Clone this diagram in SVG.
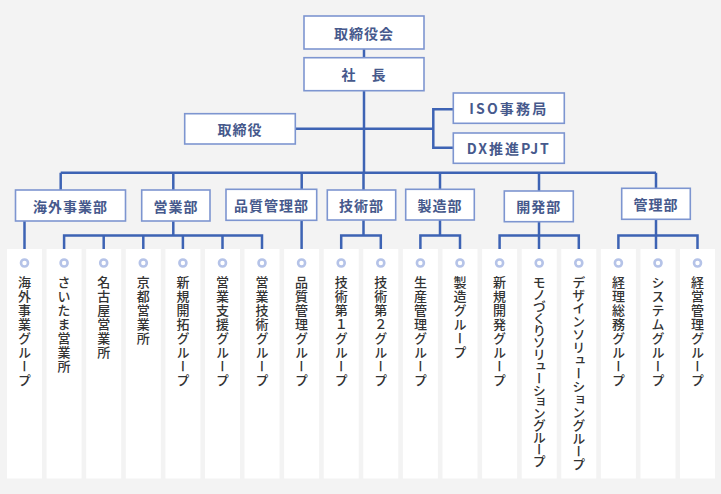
<svg xmlns="http://www.w3.org/2000/svg" width="721" height="494" viewBox="0 0 721 494">
<style>
.bx{fill:#fff;stroke:#7d95d0;stroke-width:1.6}
.bt{font-family:"Noto Sans CJK JP","Noto Sans",sans-serif;font-weight:bold;font-size:14px;fill:#46598c;text-anchor:middle;dominant-baseline:central;letter-spacing:1px}
.ln{fill:none;stroke:#3d63b4;stroke-width:2.5}
.col{fill:#fff}
.dot{fill:#fff;stroke:#b5c3e8;stroke-width:2.6}
.vt{font-family:"Noto Sans CJK JP","Noto Sans",sans-serif;font-size:13px;font-weight:500;fill:#333;writing-mode:vertical-rl;letter-spacing:0.9px}
</style>
<rect width="721" height="494" fill="#f3f3f3"/>
<g id="columns">
<rect class="col" x="7" y="249" width="35" height="229.5"/>
<rect class="col" x="46.6" y="249" width="35" height="229.5"/>
<rect class="col" x="86.2" y="249" width="35" height="229.5"/>
<rect class="col" x="125.8" y="249" width="35" height="229.5"/>
<rect class="col" x="165.4" y="249" width="35" height="229.5"/>
<rect class="col" x="205" y="249" width="35" height="229.5"/>
<rect class="col" x="244.5" y="249" width="35" height="229.5"/>
<rect class="col" x="284.1" y="249" width="35" height="229.5"/>
<rect class="col" x="323.7" y="249" width="35" height="229.5"/>
<rect class="col" x="363.3" y="249" width="35" height="229.5"/>
<rect class="col" x="402.9" y="249" width="35" height="229.5"/>
<rect class="col" x="442.5" y="249" width="35" height="229.5"/>
<rect class="col" x="482.1" y="249" width="35" height="229.5"/>
<rect class="col" x="521.7" y="249" width="35" height="229.5"/>
<rect class="col" x="561.3" y="249" width="35" height="229.5"/>
<rect class="col" x="600.9" y="249" width="35" height="229.5"/>
<rect class="col" x="640.5" y="249" width="35" height="229.5"/>
<rect class="col" x="680" y="249" width="35" height="229.5"/>
</g>
<g id="connectors">
<path class="ln" d="M364 49V172.7"/>
<path class="ln" d="M295.3 128.7H433.3"/>
<path class="ln" d="M453.3 109.3H433.3V147.7H453.3"/>
<path class="ln" d="M60.7 172.7H656"/>
<path class="ln" d="M60.7 172.7V190M173.3 172.7V190M301.7 172.7V189.3M363.5 172.7V190M440 172.7V189.3M539 172.7V191M656 172.7V188.3"/>
<path class="ln" d="M24.5 221V249"/>
<path class="ln" d="M173.3 221V235.5M64.1 249V235.5H262V249M103.7 235.5V249M143.3 235.5V249M182.9 235.5V249M222.5 235.5V249"/>
<path class="ln" d="M301.6 220V249"/>
<path class="ln" d="M363.5 220V235.5M341.2 249V235.5H380.8V249"/>
<path class="ln" d="M440 220V235.5M420.4 249V235.5H460V249"/>
<path class="ln" d="M539 221.7V249M499.6 249V235.5H578.8V249"/>
<path class="ln" d="M656 219.3V249M618.4 249V235.5H697.5V249"/>
</g>
<g id="n-board"><rect class="bx" x="304" y="16" width="120" height="33"/><text class="bt" x="364" y="32.5">取締役会</text></g>
<g id="n-president"><rect class="bx" x="304" y="57.7" width="120" height="33"/><text class="bt" x="364" y="74.2">社　長</text></g>
<g id="n-directors"><rect class="bx" x="184.7" y="113.7" width="110.6" height="30.3"/><text class="bt" x="240" y="128.9">取締役</text></g>
<g id="n-iso"><rect class="bx" x="453.3" y="93" width="111" height="30.3"/><text class="bt" x="508.8" y="108.2" style="letter-spacing:2.2px">ISO事務局</text></g>
<g id="n-dx"><rect class="bx" x="453.3" y="133" width="111" height="30.3"/><text class="bt" x="508.8" y="148.2" style="letter-spacing:2px">DX推進PJT</text></g>
<g id="d-overseas"><rect class="bx" x="15.5" y="190" width="110" height="31"/><text class="bt" x="70.5" y="205.5">海外事業部</text></g>
<g id="d-sales"><rect class="bx" x="141.7" y="190" width="68.3" height="31"/><text class="bt" x="175.9" y="205.5">営業部</text></g>
<g id="d-quality"><rect class="bx" x="226" y="189.3" width="90.7" height="31"/><text class="bt" x="271.4" y="204.8">品質管理部</text></g>
<g id="d-tech"><rect class="bx" x="327.3" y="190" width="68.4" height="30"/><text class="bt" x="361.5" y="205">技術部</text></g>
<g id="d-mfg"><rect class="bx" x="405.7" y="189.3" width="68.6" height="30.7"/><text class="bt" x="440" y="204.6">製造部</text></g>
<g id="d-dev"><rect class="bx" x="504.3" y="191" width="69" height="30.7"/><text class="bt" x="538.8" y="206.3">開発部</text></g>
<g id="d-admin"><rect class="bx" x="621.7" y="188.3" width="68.6" height="31"/><text class="bt" x="656" y="203.8">管理部</text></g>
<g id="groups">
<circle class="dot" cx="24.5" cy="263" r="3.5"/><text class="vt" x="24.5" y="276">海外事業グループ</text>
<circle class="dot" cx="64.1" cy="263" r="3.5"/><text class="vt" x="64.1" y="276">さいたま営業所</text>
<circle class="dot" cx="103.7" cy="263" r="3.5"/><text class="vt" x="103.7" y="276">名古屋営業所</text>
<circle class="dot" cx="143.3" cy="263" r="3.5"/><text class="vt" x="143.3" y="276">京都営業所</text>
<circle class="dot" cx="182.9" cy="263" r="3.5"/><text class="vt" x="182.9" y="276">新規開拓グループ</text>
<circle class="dot" cx="222.5" cy="263" r="3.5"/><text class="vt" x="222.5" y="276">営業支援グループ</text>
<circle class="dot" cx="262" cy="263" r="3.5"/><text class="vt" x="262" y="276">営業技術グループ</text>
<circle class="dot" cx="301.6" cy="263" r="3.5"/><text class="vt" x="301.6" y="276">品質管理グループ</text>
<circle class="dot" cx="341.2" cy="263" r="3.5"/><text class="vt" x="341.2" y="276">技術第１グループ</text>
<circle class="dot" cx="380.8" cy="263" r="3.5"/><text class="vt" x="380.8" y="276">技術第２グループ</text>
<circle class="dot" cx="420.4" cy="263" r="3.5"/><text class="vt" x="420.4" y="276">生産管理グループ</text>
<circle class="dot" cx="460" cy="263" r="3.5"/><text class="vt" x="460" y="276">製造グループ</text>
<circle class="dot" cx="499.6" cy="263" r="3.5"/><text class="vt" x="499.6" y="276">新規開発グループ</text>
<circle class="dot" cx="539.2" cy="263" r="3.5"/><text class="vt" x="539.2" y="276" style="letter-spacing:-1.1px">モノづくりソリューショングループ</text>
<circle class="dot" cx="578.8" cy="263" r="3.5"/><text class="vt" x="578.8" y="276" style="letter-spacing:0px">デザインソリューショングループ</text>
<circle class="dot" cx="618.4" cy="263" r="3.5"/><text class="vt" x="618.4" y="276">経理総務グループ</text>
<circle class="dot" cx="658" cy="263" r="3.5"/><text class="vt" x="658" y="276">システムグループ</text>
<circle class="dot" cx="697.5" cy="263" r="3.5"/><text class="vt" x="697.5" y="276">経営管理グループ</text>
</g>
</svg>
